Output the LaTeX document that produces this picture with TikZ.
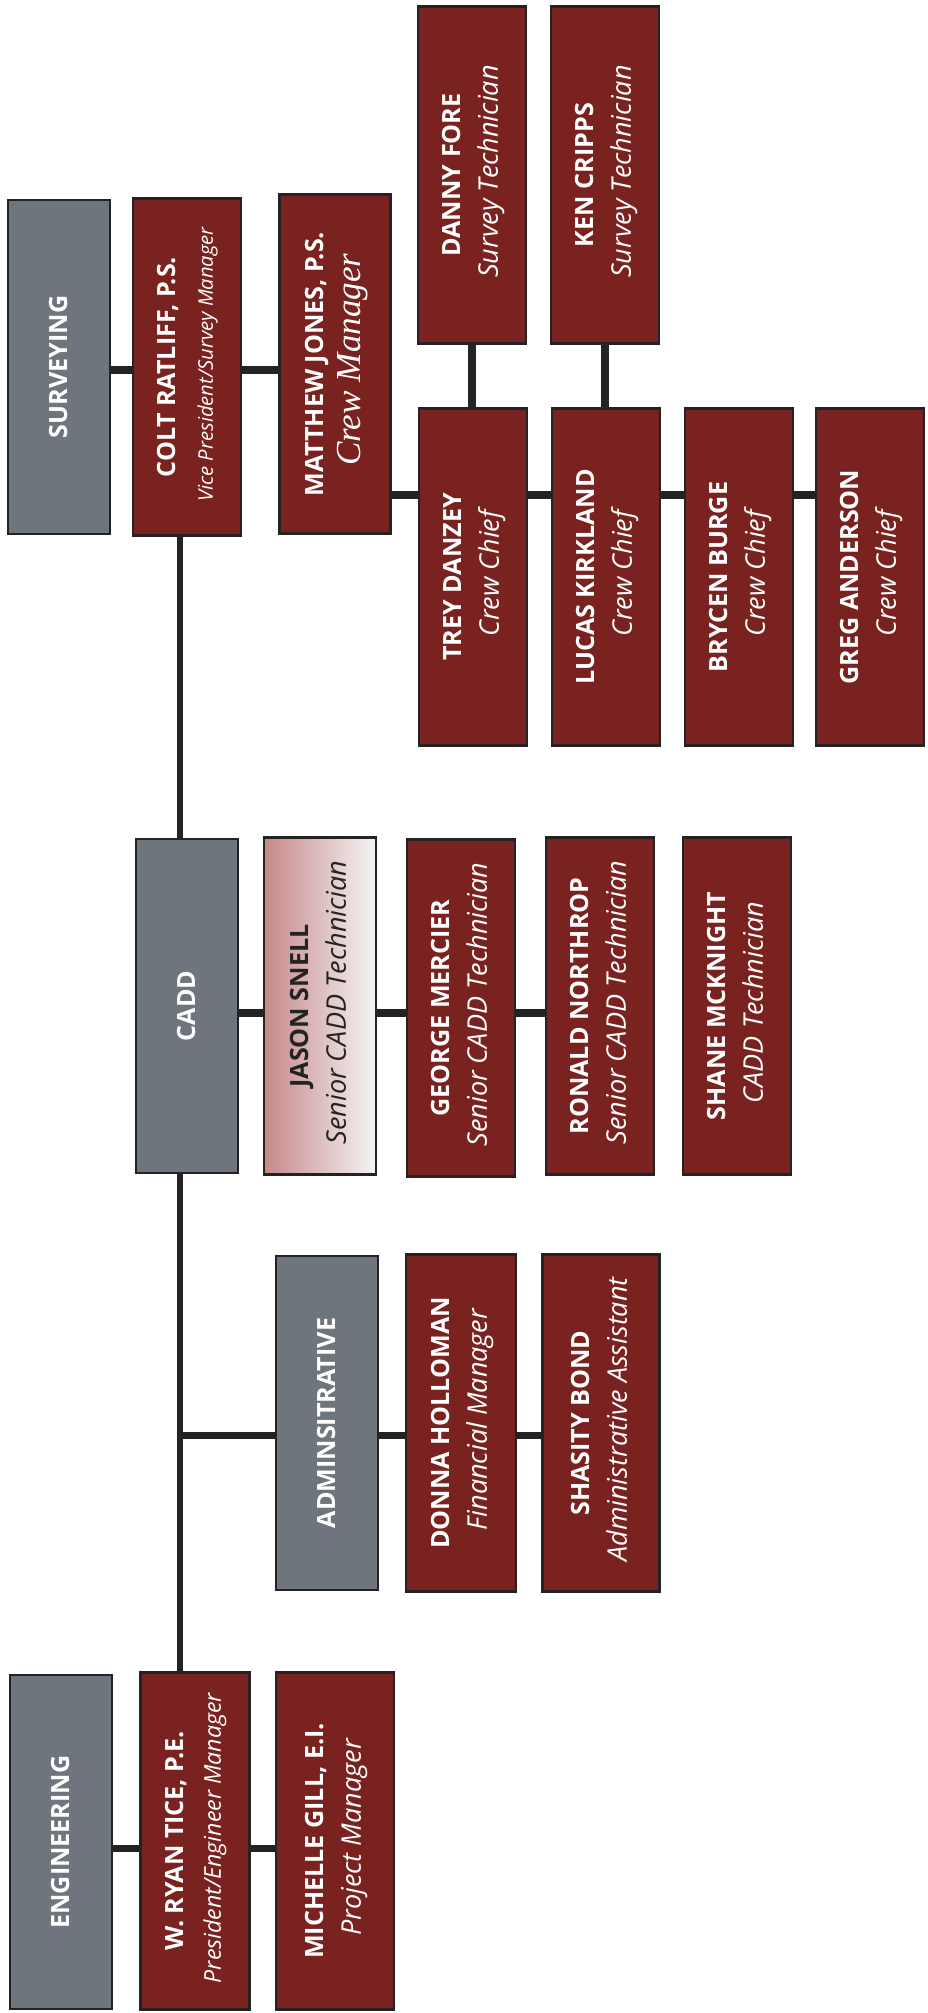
\documentclass[tikz,border=0pt]{standalone}
\usepackage{fontspec}
\setmainfont{Open Sans}
\newfontfamily\crewfont{Liberation Serif}
\definecolor{brickred}{RGB}{122, 34, 31}
\definecolor{deptgrey}{RGB}{110, 117, 124}
\definecolor{edgedark}{RGB}{35, 35, 35}
\definecolor{jasonpink}{RGB}{198, 136, 138}
\usetikzlibrary{backgrounds}

\newcommand{\namefont}{\fontsize{14.3}{21}\selectfont\bfseries}
\newcommand{\rolefont}{\fontsize{15.4}{21}\selectfont\itshape}
\newcommand{\staff}[3][\rolefont]{\rotatebox{90}{\fontsize{14.3}{21}\selectfont\begin{tabular}{@{}c@{}}\namefont #2\\ #1 #3\end{tabular}}}
\newcommand{\dept}[1]{\rotatebox{90}{\namefont #1}}

\tikzset{
  box/.style={draw=edgedark, line width=1.6pt, inner sep=0pt, text=white},
  staffbox/.style={box, fill=brickred, minimum width=2.16cm, minimum height=6.74cm},
  deptbox/.style={box, fill=deptgrey, minimum width=2.04cm, minimum height=6.68cm},
  link/.style={draw=edgedark, line width=4pt},
}

\begin{document}
\begin{tikzpicture}[x=0.02cm, y=-0.02cm]
  \useasboundingbox (0,0) rectangle (927,2013);

  % Surveying
  \node[deptbox] (surv) at (59,367) {\dept{SURVEYING}};
  \node[staffbox] (colt) at (187,367) {\staff[\fontsize{11.5}{21}\selectfont\itshape]{COLT RATLIFF, P.S.}{Vice President/Survey Manager}};
  \node[staffbox, minimum width=2.22cm, minimum height=6.78cm] (matt) at (335,364) {\staff[\crewfont\fontsize{20}{21}\selectfont\itshape]{MATTHEW JONES, P.S.}{Crew Manager}};
  \node[staffbox] (danny) at (472,175) {\staff{DANNY FORE}{Survey Technician}};
  \node[staffbox] (ken) at (605,175) {\staff{KEN CRIPPS}{Survey Technician}};
  \node[staffbox] (trey) at (473,577) {\staff{TREY DANZEY}{Crew Chief}};
  \node[staffbox] (lucas) at (606,577) {\staff{LUCAS KIRKLAND}{Crew Chief}};
  \node[staffbox] (brycen) at (739,577) {\staff{BRYCEN BURGE}{Crew Chief}};
  \node[staffbox] (greg) at (870,577) {\staff{GREG ANDERSON}{Crew Chief}};

  % CADD
  \node[deptbox] (cadd) at (187,1006) {\dept{CADD}};
  \node[staffbox, minimum width=2.24cm, left color=jasonpink, right color=white!92!gray, text=edgedark] (jason) at (320,1006) {\staff{JASON SNELL}{Senior CADD Technician}};
  \node[staffbox] (george) at (461,1008) {\staff{GEORGE MERCIER}{Senior CADD Technician}};
  \node[staffbox] (ronald) at (600,1006) {\staff{RONALD NORTHROP}{Senior CADD Technician}};
  \node[staffbox] (shane) at (737,1006) {\staff{SHANE MCKNIGHT}{CADD Technician}};

  % Administrative
  \node[deptbox] (admin) at (327,1423) {\dept{ADMINSITRATIVE}};
  \node[staffbox, minimum width=2.2cm] (donna) at (461,1423) {\staff{DONNA HOLLOMAN}{Financial Manager}};
  \node[staffbox, minimum width=2.34cm] (shasity) at (601,1423) {\staff{SHASITY BOND}{Administrative Assistant}};

  % Engineering
  \node[deptbox] (eng) at (61,1842) {\dept{ENGINEERING}};
  \node[staffbox, minimum width=2.18cm] (ryan) at (195,1841) {\staff[\fontsize{13.2}{21}\selectfont\itshape]{W. RYAN TICE, P.E.}{President/Engineer Manager}};
  \node[staffbox, minimum width=2.36cm] (michelle) at (335,1841) {\staff{MICHELLE GILL, E.I.}{Project Manager}};

  % connectors behind the boxes
  \coordinate (spine) at (180,0);
  \coordinate (survline) at (0,370);
  \coordinate (crewline) at (0,495);
  \coordinate (caddline) at (0,1013);
  \coordinate (adminline) at (0,1435);
  \coordinate (engline) at (0,1848);
  \begin{scope}[on background layer]
    \draw[link, line width=3.6pt] (colt.south -| spine) -- (ryan.north -| spine);
    \draw[link] (surv.east |- survline) -- (matt.west |- survline);
    \draw[link] (matt.east |- crewline) -- (greg.west |- crewline);
    \draw[link] (danny.south) -- (danny.south |- trey.north);
    \draw[link] (ken.south) -- (ken.south |- lucas.north);
    \draw[link] (cadd.east |- caddline) -- (ronald.west |- caddline);
    \draw[link] (spine |- adminline) -- (shasity.west |- adminline);
    \draw[link] (eng.east |- engline) -- (michelle.west |- engline);
  \end{scope}
\end{tikzpicture}
\end{document}
